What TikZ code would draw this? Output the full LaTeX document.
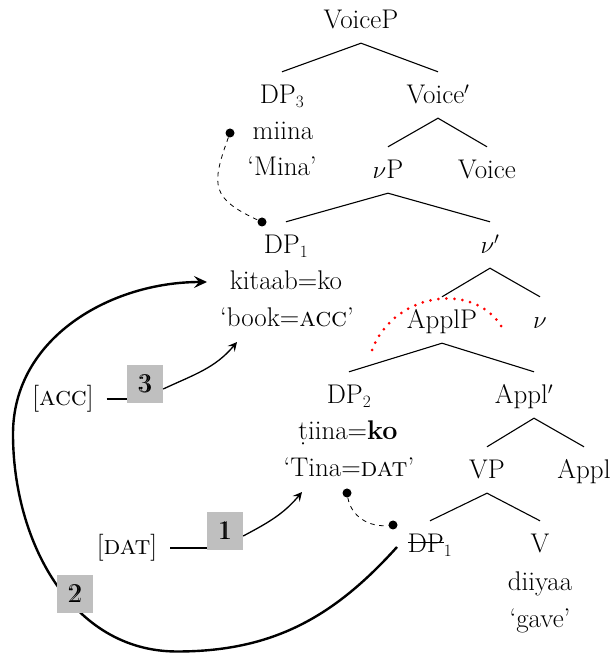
\documentclass[tikz,border=0pt]{standalone}
\usetikzlibrary{arrows.meta}
\definecolor{boxgray}{RGB}{191,191,191}
% struck-through text (a deleted copy)
\newcommand\strikeword[1]{\setbox0\hbox{#1}\rlap{\rule[0.36em]{\wd0}{0.055em}}\box0}
% step numeral set with a doubled stroke
\newcommand\dblfig[1]{\rlap{#1}\kern0.06em#1}
\begin{document}
\begin{tikzpicture}[x=1pt,y=1pt,
  every node/.style={font=\fontsize{27}{32}\selectfont},
  cat/.style={anchor=base, inner sep=0pt, text height=32pt, text depth=14pt},
  txt/.style={anchor=base, inner sep=0pt},
  feat/.style={anchor=base, inner sep=0pt, outer xsep=13pt},
  branch/.style={line width=1.1pt},
  dotn/.style={circle, fill=black, inner sep=0pt, minimum size=9pt},
  tie/.style={dash pattern=on 4.5pt off 4.5pt, line width=0.8pt},
  stepbox/.style={fill=boxgray, minimum width=36pt, minimum height=38pt, inner sep=0pt},
  move/.style={line width=1.3pt, -{Stealth[length=9pt,width=9pt,inset=3.5pt]}},
  bigmove/.style={line width=2.4pt, -{Stealth[length=13pt,width=12pt,inset=5pt]}},
  feature/.style={line width=1.6pt}]
\useasboundingbox (0,0) rectangle (613,654);

% tree categories
\node[cat] (voicep) at (361,625) {VoiceP};
\node[cat] (dp3) at (282,550) {DP$_3$};
\node[cat] (voicebar) at (438,550) {Voice$'$};
\node[cat] (littlevp) at (388,475) {$\nu$P};
\node[cat] (voice) at (487,475) {Voice};
\node[cat] (dp1) at (286,400) {DP$_1$};
\node[cat] (littlevbar) at (490,400) {$\nu'$};
\node[cat] (applp) at (442,325) {ApplP};
\node[cat] (littlev) at (540,325) {$\nu$};
\node[cat] (dp2) at (349,250) {DP$_2$};
\node[cat] (applbar) at (524,250) {Appl$'$};
\node[cat] (vp) at (487,175) {VP};
\node[cat] (appl) at (584,175) {Appl};
\node[cat] (dp1low) at (430,101) {\strikeword{DP}$_1$};
\node[cat] (verb) at (540,101) {V};

% words and glosses
\node[txt] (miina) at (283,514) {miina};
\node[txt] (mina) at (282,478) {`Mina'};
\node[txt] (kitaab) at (286,364) {kitaab=ko};
\node[txt] (book) at (287,327) {`book=\textsc{acc}'};
\node[txt] (tiina) at (348,214) {ṭiina=\textbf{ko}};
\node[txt] (tina) at (349,177) {`Tina=\textsc{dat}'};
\node[txt] (diiyaa) at (540,63) {diiyaa};
\node[txt] (gave) at (540,26) {`gave'};

% branches
\draw[branch] (dp3.north) -- (voicep.south) -- (voicebar.north);
\draw[branch] (littlevp.north) -- (voicebar.south) -- (voice.north);
\draw[branch] (dp1.north) -- (littlevp.south) -- (littlevbar.north);
\draw[branch] (applp.north) -- (littlevbar.south) -- (littlev.north);
\draw[branch] (dp2.north) -- (applp.south) -- ([xshift=10pt]applbar.north);
\draw[branch] (vp.north) -- ([xshift=10pt]applbar.south) -- (appl.north);
\draw[branch] (dp1low.north) -- (vp.south) -- (verb.north);

% chain links
\node[dotn] (d3) at (230,521) {};
\node[dotn] (d1) at (262,432) {};
\node[dotn] (d2) at (347,161) {};
\node[dotn] (d1low) at (393,129) {};
\draw[tie] (d3) to[out=-110,in=155,looseness=1.5] (d1);
\draw[tie] (d2) to[out=-80,in=186] (d1low);

% red dotted arc over ApplP
\coordinate (redL) at (372,304);
\coordinate (redR) at (505,321);
\draw[red, line width=3pt, line cap=round, dash pattern=on 0pt off 8pt]
  (redL) .. controls (395,364) and (480,374) .. (redR);

% long movement arc
\coordinate (arcstart) at (397,107);
\coordinate (arcbottom) at (177,2.5);
\coordinate (arcleft) at (13,220);
\coordinate (arctip) at (207,372);
\draw[bigmove] (arcstart) to[out=228,in=0] (arcbottom)
  to[out=180,in=-90] (arcleft) to[out=90,in=180] (arctip);

% features and steps
\node[feat] (acc) at (63,248) {[\textsc{acc}]};
\node[feat] (dat) at (127,99) {[\textsc{dat}]};
\node[stepbox] (box3) at (145,270) {\dblfig{3}};
\node[stepbox] (box1) at (225,123) {\dblfig{1}};
\node[stepbox] (box2) at (75,60) {\dblfig{2}};
\coordinate (acctip) at (237,312);
\coordinate (dattip) at (302,162);
\draw[feature] (acc.east) -- (acc.east -| box3.west);
\draw[feature] (dat.east) -- (dat.east -| box1.west);
\draw[move] ([yshift=-5pt]box3.east) to[out=25,in=230] (acctip);
\draw[move] ([yshift=-5pt]box1.east) to[out=28,in=230] (dattip);
\end{tikzpicture}
\end{document}
